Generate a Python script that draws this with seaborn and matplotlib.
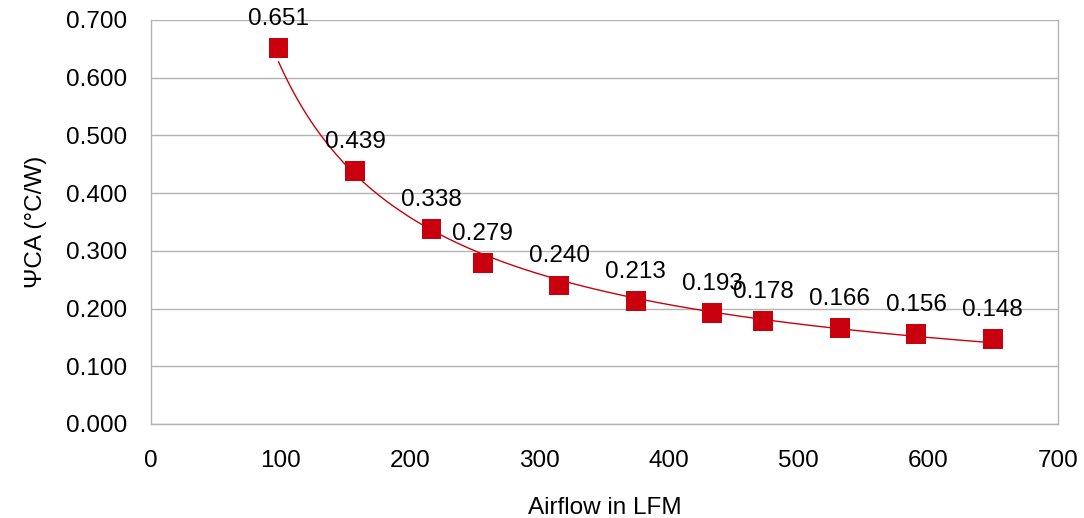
import numpy as np
import pandas as pd
import matplotlib
matplotlib.use("Agg")
import matplotlib.pyplot as plt
import seaborn as sns

airflow_lfm = [98.4, 157.5, 216.5, 255.9, 315.0, 374.0, 433.1, 472.4, 531.5, 590.6, 649.6]
psi_ca = [0.651, 0.439, 0.338, 0.279, 0.240, 0.213, 0.193, 0.178, 0.166, 0.156, 0.148]
x_label = "Airflow in LFM"
y_label = "ΨCA (°C/W)"

sns.set_theme(style="white")
plt.rcParams['font.family'] = ['Liberation Sans', 'DejaVu Sans']

df = pd.DataFrame({"x": airflow_lfm, "y": psi_ca})

# power trendline fitted to the data
b, log_a = np.polyfit(np.log(df["x"]), np.log(df["y"]), 1)
xs = np.linspace(df["x"].min(), df["x"].max(), 200)
trend = pd.DataFrame({"x": xs, "y": np.exp(log_a) * xs ** b})

fig = plt.figure(figsize=(10.84, 5.18), dpi=100)
ax = fig.add_axes([0.1393, 0.1815, 0.8367, 0.7799])

red = "#c9000e"
grid = "#b3b3b3"
fs = 17.5

sns.lineplot(data=trend, x="x", y="y", ax=ax, color=red, linewidth=1.0, zorder=2)
sns.scatterplot(data=df, x="x", y="y", ax=ax, marker="s", s=205, color=red,
                edgecolor="none", linewidth=0, zorder=3)

for xv, yv in zip(df["x"], df["y"]):
    ax.annotate(f"{yv:.3f}", (xv, yv), xytext=(0, 13), textcoords="offset points",
                ha="center", va="bottom", fontsize=fs, color="black", zorder=4,
                annotation_clip=False)

ax.set_xlim(0, 700)
ax.set_ylim(0, 0.7)
ax.set_xticks(np.arange(0, 701, 100))
ax.set_yticks(np.arange(0, 0.701, 0.1))
ax.set_yticklabels([f"{v:.3f}" for v in np.arange(0, 0.701, 0.1)])
ax.yaxis.grid(True, color=grid, linewidth=1)
ax.xaxis.grid(False)
ax.set_axisbelow(True)

ax.spines["top"].set_visible(False)
for side in ["left", "right", "bottom"]:
    ax.spines[side].set_color(grid)
    ax.spines[side].set_linewidth(1)

ax.tick_params(axis="both", which="both", direction="out", length=8, width=1,
               color=grid, labelsize=fs, labelcolor="black")
ax.tick_params(axis="x", pad=11)
ax.tick_params(axis="y", pad=9)

ax.set_xlabel(x_label, fontsize=fs, labelpad=18, color="black")
ax.set_ylabel(y_label, fontsize=fs, labelpad=14, color="black")

fig.savefig("out.png", dpi=100)
